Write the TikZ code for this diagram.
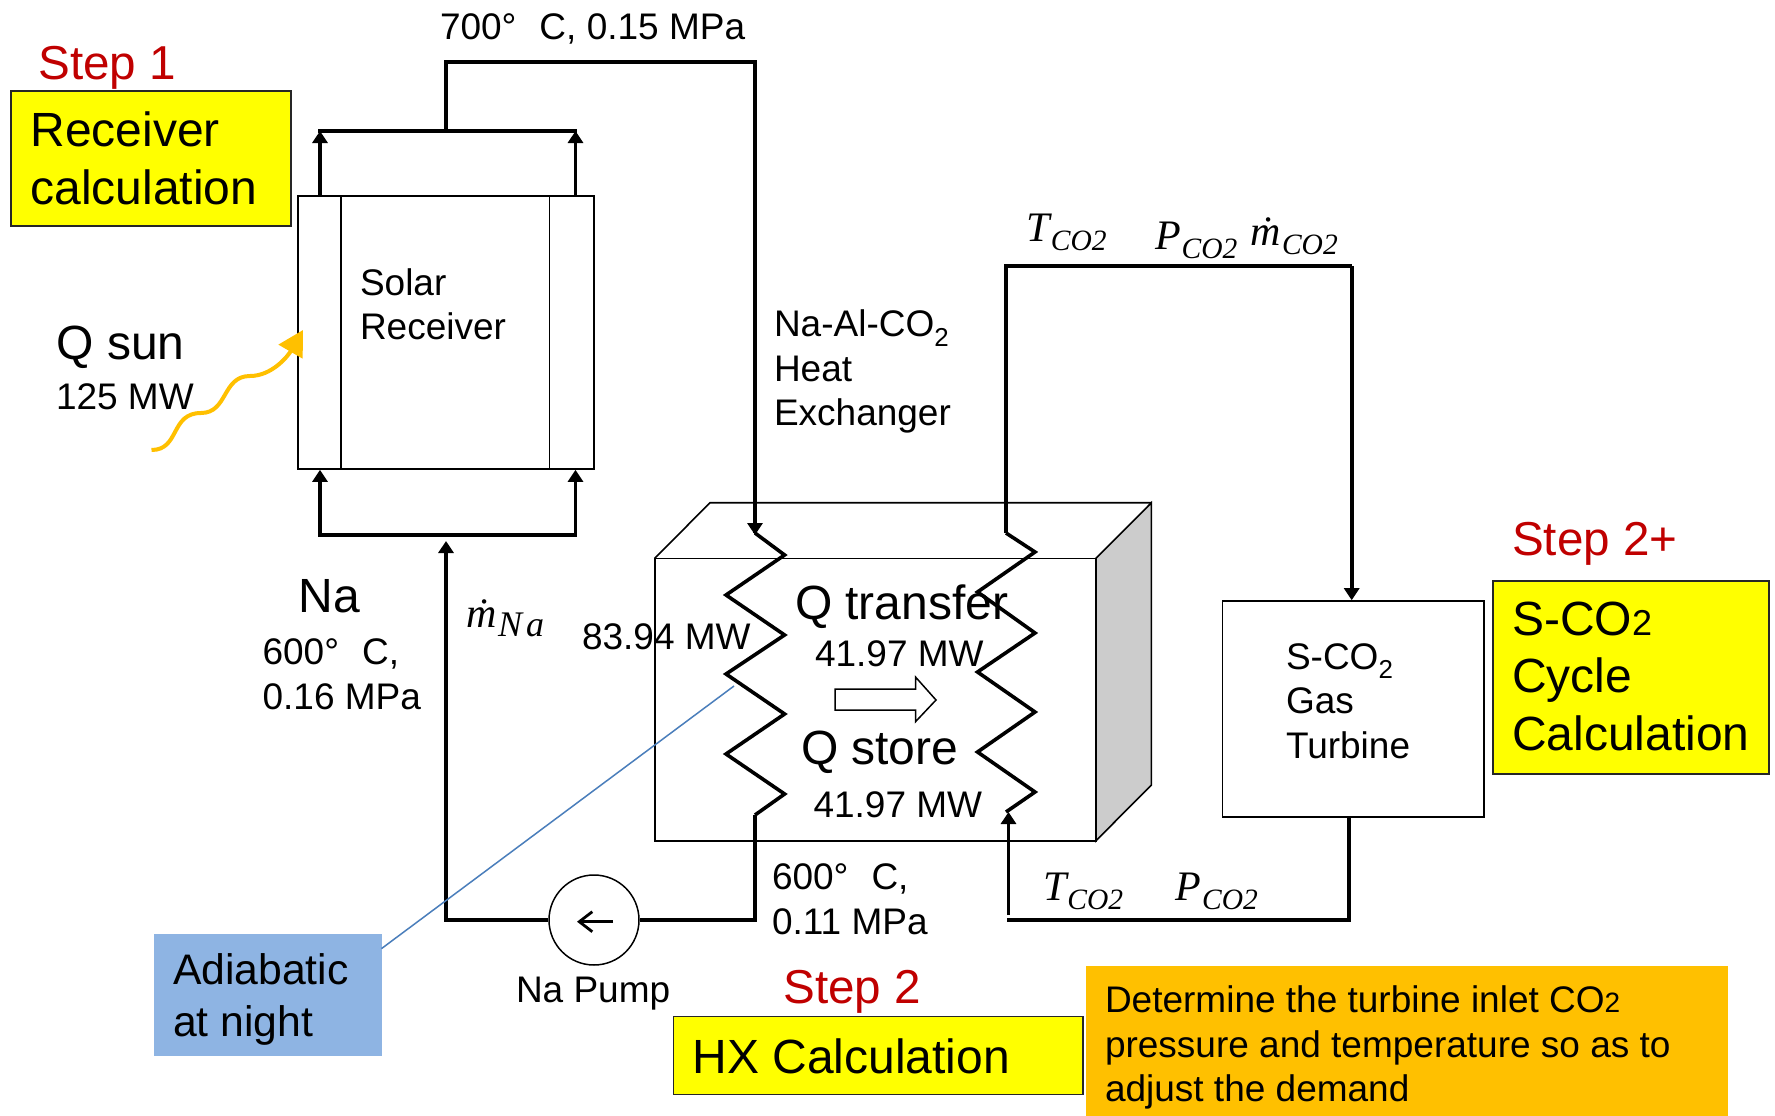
\documentclass[tikz,border=0pt]{standalone}
\usepackage{fontspec}
\setmainfont{Liberation Sans}
\newfontfamily\symfont{Liberation Serif}
\usetikzlibrary{arrows.meta,calc}
\definecolor{stepred}{HTML}{C00000}
\definecolor{sunorange}{HTML}{FFC000}
\definecolor{calcyellow}{HTML}{FFFF00}
\definecolor{nightblue}{HTML}{8EB4E3}
\definecolor{leaderblue}{HTML}{4A7EBB}
\definecolor{sidegrey}{HTML}{CCCCCC}
\newcommand{\fs}[2]{\fontsize{#1}{#2}\selectfont}
\newcommand{\symb}[2]{{\symfont\itshape\fs{42}{42}#1\raisebox{-9pt}{\fs{29.5}{29.5}\kern1pt #2}}}
\tikzset{
  lab/.style={anchor=base west,inner sep=0pt,outer sep=0pt,align=left},
  smalltext/.style={lab,font=\fs{37}{44.5}},
  midtext/.style={lab,font=\fs{42.7}{52}},
  bigtext/.style={lab,font=\fs{48}{57.5}},
  steptext/.style={lab,font=\fs{47.6}{56},text=stepred},
  eqn/.style={anchor=base west,inner sep=0pt,outer sep=0pt},
  thin box/.style={draw=black,line width=1.6pt},
  panel/.style={draw=black!85,line width=1.5pt,fill=calcyellow},
  pipe/.style={draw=black,line width=3.6pt,line join=miter,line cap=butt},
  pipehead/.style={-{Triangle[length=12pt,width=15pt]}},
}
\begin{document}
\begin{tikzpicture}[x=1pt,y=-1pt]
\useasboundingbox[fill=white] (0,0) rectangle (1775,1116);

% coloured panels
\path[panel] (11,91) rectangle (291,226);
\path[panel] (1493,581) rectangle (1769,774);
\path[panel] (673.5,1016.5) rectangle (1083,1094.7);
\path[fill=nightblue] (154,934) rectangle (381.5,1056);
\path[fill=sunorange] (1086,966) rectangle (1727.5,1116);

% heat exchanger block
\path[fill=sidegrey,thin box] (1096,558.3) -- (1151.4,502.7) -- (1151.4,785) -- (1096,840.7) -- cycle;
\draw[thin box] (654.8,558.3) -- (710,502.7) -- (1151.4,502.7);
\draw[thin box] (654.8,558.3) rectangle (1096,840.7);

% components
\node[thin box,minimum width=296pt,minimum height=273pt,inner sep=0pt] (recv) at (446,332.5) {};
\draw[thin box] (341,196) -- (341,469) (549.5,196) -- (549.5,469);
\node[thin box,minimum width=261.4pt,minimum height=216pt,inner sep=0pt] (turb) at (1353.3,709) {};
\node[draw=black,line width=1.5pt,circle,minimum size=90pt,inner sep=0pt,fill=white] (pump) at (594,920) {};
\coordinate (pumpR) at (613,921.7);
\coordinate (pumpL) at (577,921.7);
\draw[line width=2.8pt,-{Straight Barb[length=13pt,width=20pt]}] (pumpR) -- (pumpL);

% receiver manifolds
\coordinate (topL) at (320,131);
\coordinate (topR) at (575.5,131);
\coordinate (botL) at (320,534.6);
\coordinate (botR) at (575.5,534.6);
\coordinate (riser) at (446,131);
\coordinate (riserTop) at (446,62);
\coordinate (hotCorner) at (755,62);
\draw[line width=4.2pt] ($(topL)+(-1.7,0)$) -- ($(topR)+(1.7,0)$);
\draw[line width=4.2pt] ($(botL)+(-1.7,0)$) -- ($(botR)+(1.7,0)$);
\draw[pipe,pipehead] (recv.north -| topL) -- (topL);
\draw[pipe,pipehead] (recv.north -| topR) -- (topR);
\draw[pipe,pipehead] (botL) -- (recv.south -| botL);
\draw[pipe,pipehead] (botR) -- (recv.south -| botR);
\draw[pipe,line join=miter] (riser) -- (riserTop) -- (hotCorner) -- (755,533);
\draw[pipe,pipehead] (755,500) -- (755,535);

% sodium coil
\coordinate (naIn) at (755,533);
\coordinate (naOut) at (755,815);
\draw[pipe] (naIn) -- (784.6,555) -- (726,595) -- (784.6,635) -- (726,674) -- (784.6,714) -- (726,754) -- (784.6,794) -- (naOut);
\draw[pipe,line join=miter] (naOut) -- (755,920) -- (pump.east);
\coordinate (naCorner) at (446,920);
\coordinate (naTip) at (446,541);
\draw[pipe,pipehead] (pump.west) -- (naCorner) -- (naTip);

% CO2 coil
\coordinate (coIn) at (1006,533);
\coordinate (coOut) at (1006,812);
\draw[pipe] (coOut) -- (1035,792) -- (977.5,752) -- (1035,712) -- (977.5,672) -- (1035,633) -- (977.5,592) -- (1035,552) -- (coIn);
\coordinate (coTL) at (1006,266);
\coordinate (coTR) at (1351.7,266);
\draw[pipe] (coIn) -- (coTL) -- (coTR);
\draw[pipe,pipehead] (coTR) -- (turb.north -| coTR);
\coordinate (coBR) at (1349,920);
\coordinate (coBL) at (1007,920);
\draw[pipe] (turb.south -| coBR) -- (coBR) -- (coBL);
\coordinate (coUpStart) at (1008.5,915);
\draw[pipe,pipehead] (coUpStart) -- (1008.5,812);

% internal transfer arrow
\draw[line width=1.5pt,fill=white] (835,689) -- (915.5,689) -- (915.5,677) -- (936,700) -- (915.5,721.7) -- (915.5,710) -- (835,710) -- cycle;

% sun ray
\coordinate (sunA) at (151.5,450);
\coordinate (sunB) at (201,413);
\coordinate (sunC) at (250,376);
\coordinate (sunTip) at (303,330);
\draw[sunorange,line width=4pt,-{Triangle[length=25pt,width=27pt]}] (sunA) .. controls (180,450) and (170,413) .. (sunB) .. controls (228,413) and (222,376) .. (sunC) .. controls (272,376) and (288,356) .. (sunTip);

% leader
\coordinate (coilNote) at (734,686);
\coordinate (noteCorner) at (381.5,948.6);
\draw[leaderblue,line width=1.5pt] (coilNote) -- (noteCorner);

% labels
\node[steptext] (step1) at (38.5,80) {Step 1};
\node[bigtext] (t1) at (30.5,204) {Receiver\\calculation};
\node[smalltext] (t2) at (360,339.5) {Solar\\Receiver};
\node[bigtext] (t3) at (56.5,359.5) {Q sun};
\node[smalltext] (t4) at (56,409.5) {125 MW};
\node[smalltext] (t5) at (440,40) {700°\hspace{23pt}C, 0.15 MPa};
\node[bigtext] (t6) at (298.5,612) {Na};
\node[smalltext] (t7) at (262.6,709) {600°\hspace{23pt}C,\\0.16 MPa};
\node[smalltext] (t8) at (774,425.6) {Na-Al-CO\textsubscript{2}\\Heat\\Exchanger};
\node[smalltext] (t9) at (582,649) {83.94 MW};
\node[bigtext] (t10) at (795,619) {Q transfer};
\node[smalltext] (t11) at (815,666) {41.97 MW};
\node[bigtext] (t12) at (801,764.5) {Q store};
\node[smalltext] (t13) at (813.5,817) {41.97 MW};
\node[smalltext] (t14) at (772,934) {600°\hspace{23pt}C,\\0.11 MPa};
\node[smalltext] (t15) at (516,1002.7) {Na Pump};
\node[smalltext] (t16) at (1286,758) {S-CO\textsubscript{2}\\Gas\\Turbine};
\node[steptext] (step2p) at (1512,555.5) {Step 2+};
\node[bigtext] (t17) at (1512,750) {S-CO{\fs{36}{36}2}\\Cycle\\Calculation};
\node[steptext] (step2) at (783.4,1003) {Step 2};
\node[bigtext] (t18) at (692.5,1073) {HX Calculation};
\node[midtext] (t19) at (173,1036) {Adiabatic\\at night};
\node[smalltext] (t20) at (1105,1101.5) {Determine the turbine inlet CO{\fs{28}{28}2}\\pressure and temperature so as to\\adjust the demand};

\node[eqn] (e1) at (1026.5,241.7) {\symb{T}{CO2}};
\node[eqn] (e2) at (1155,249) {\symb{P}{CO2}};
\node[eqn] (e3) at (1250.7,245) {\symb{ṁ}{CO2}};
\node[eqn] (e4) at (1043,900.7) {\symb{T}{CO2}};
\node[eqn] (e5) at (1175.5,900) {\symb{P}{CO2}};
\node[eqn] (e6) at (466.7,627) {\symb{ṁ}{{\fs{36}{36}N\kern4pt a}}};
\end{tikzpicture}
\end{document}
